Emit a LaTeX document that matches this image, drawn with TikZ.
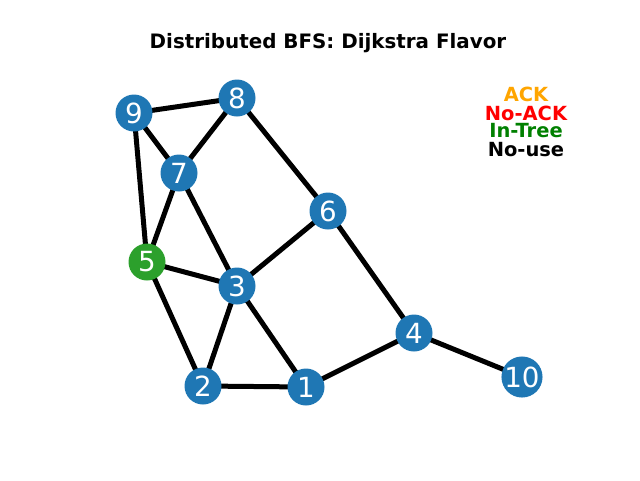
\documentclass[tikz,border=0pt]{standalone}
\usepackage{fontspec}
\setmainfont{DejaVu Sans}
\definecolor{nblue}{HTML}{1F77B4}
\definecolor{ngreen}{HTML}{2CA02C}
\definecolor{ackorange}{HTML}{FFA500}
\definecolor{intree}{HTML}{008000}
\begin{document}
\begin{tikzpicture}[x=0.75pt,y=-0.75pt,
  vtx/.style={circle, fill=nblue, draw=none, minimum size=27.75pt, inner sep=0pt, text=white, font=\fontsize{20.8}{22}\selectfont},
  edge/.style={line width=3.75pt, black},
  legend/.style={font=\fontsize{14.6}{16}\selectfont\bfseries, inner sep=0pt, anchor=center}]
\useasboundingbox (0,0) rectangle (640,480);
\node[font=\fontsize{14.9}{16}\selectfont\bfseries] (title) at (328,43) {Distributed BFS: Dijkstra Flavor};
\coordinate (c9) at (134,113);
\coordinate (c8) at (237,98);
\coordinate (c7) at (179,173);
\coordinate (c6) at (328,211);
\coordinate (c5) at (147,262);
\coordinate (c3) at (237,286);
\coordinate (c4) at (414,333);
\coordinate (c2) at (203,386);
\coordinate (c1) at (306,387);
\coordinate (c10) at (522,377);
\foreach \a/\b in {9/8,9/7,9/5,8/7,8/6,7/5,7/3,5/3,5/2,3/6,3/2,3/1,2/1,1/4,6/4,4/10}
  \draw[edge] (c\a) -- (c\b);
\foreach \n in {9,8,7,6,3,4,2,1,10}
  \node[vtx] (n\n) at (c\n) {\n};
\node[vtx, fill=ngreen] (n5) at (c5) {5};
\node[legend, text=ackorange] (lack) at (526,94) {ACK};
\node[legend, text=red] (lnoack) at (526,113) {No-ACK};
\node[legend, text=intree] (lintree) at (526,131) {In-Tree};
\node[legend, text=black] (lnouse) at (526,150) {No-use};
\end{tikzpicture}
\end{document}
